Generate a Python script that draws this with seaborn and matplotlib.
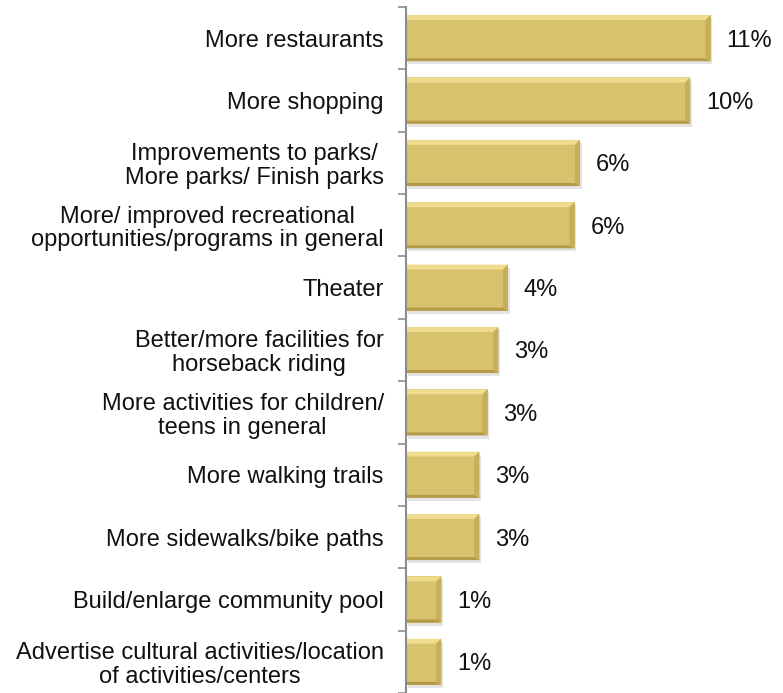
import matplotlib
matplotlib.use("Agg")
import matplotlib.pyplot as plt
from matplotlib.patches import Polygon, Rectangle
import seaborn as sns
import pandas as pd

categories = [
    "More restaurants",
    "More shopping",
    "Improvements to parks/\nMore parks/ Finish parks",
    "More/ improved recreational\nopportunities/programs in general",
    "Theater",
    "Better/more facilities for\nhorseback riding",
    "More activities for children/\nteens in general",
    "More walking trails",
    "More sidewalks/bike paths",
    "Build/enlarge community pool",
    "Advertise cultural activities/location\nof activities/centers",
]
values = [11.2, 10.45, 6.4, 6.2, 3.75, 3.4, 3.0, 2.7, 2.7, 1.3, 1.3]

df = pd.DataFrame({"category": categories, "value": values})

sns.set_theme(style="white")
plt.rcParams["font.family"] = ["Liberation Sans", "DejaVu Sans"]

BASE = "#D8C26D"
LIGHT = "#EFDC8E"
DARK = "#B49A48"
MID = "#C6AE5A"

fig = plt.figure(figsize=(7.83, 6.93), dpi=100)
ax = fig.add_axes([406 / 783, 0.0, 1 - 406 / 783, 1 - 7 / 693])

sns.barplot(data=df, x="value", y="category", color=BASE, width=0.74,
            saturation=1, edgecolor="none", ax=ax, orient="h")

ax.set_xlim(0, 13.86)
ax.set_ylim(len(categories) - 0.5, -0.5)

# bevel and soft shadow around each bar, sized from the bar geometry
dx = 0.19
dy = 0.08
for p in list(ax.patches):
    x0 = p.get_x()
    y0 = p.get_y()
    w = p.get_width()
    h = p.get_height()
    x1 = x0 + w
    y1 = y0 + h
    ax.add_patch(Rectangle((x0 + 0.06, y0 + 0.05), w, h, facecolor="#c4c4c4",
                           alpha=0.45, edgecolor="none", zorder=p.get_zorder() - 0.1))
    bx = min(dx, w * 0.3)
    ax.add_patch(Polygon([(x0, y0), (x1, y0), (x1 - bx, y0 + dy), (x0, y0 + dy)],
                         closed=True, facecolor=LIGHT, edgecolor="none",
                         zorder=p.get_zorder() + 0.1))
    ax.add_patch(Polygon([(x0, y1), (x1, y1), (x1 - bx, y1 - dy * 0.6), (x0, y1 - dy * 0.6)],
                         closed=True, facecolor=DARK, edgecolor="none",
                         zorder=p.get_zorder() + 0.1))
    ax.add_patch(Polygon([(x1, y0), (x1, y1), (x1 - bx, y1 - dy * 0.6), (x1 - bx, y0 + dy)],
                         closed=True, facecolor=MID, edgecolor="none",
                         zorder=p.get_zorder() + 0.1))
    ax.annotate(f"{round(w):.0f}%", xy=(x1, y0 + h / 2 + 0.04), xytext=(11.5, 0),
                textcoords="offset points", ha="left", va="center",
                fontsize=17, color="#111111")

ax.set_xlabel("")
ax.set_ylabel("")
ax.set_xticks([])

ax.set_yticks(range(len(categories)))
ax.set_yticklabels(categories, fontsize=17, color="#111111",
                   multialignment="center", linespacing=1.1)
ax.set_yticks([i - 0.5 for i in range(len(categories) + 1)], minor=True)
ax.tick_params(axis="y", which="major", length=0, pad=16)
ax.tick_params(axis="y", which="minor", length=6, width=1.2, color="#8c8c8c",
               direction="out", left=True)

for side in ["top", "right", "bottom"]:
    ax.spines[side].set_visible(False)
ax.spines["left"].set_color("#8c8c8c")
ax.spines["left"].set_linewidth(1.5)

fig.savefig("out.png", dpi=100)
